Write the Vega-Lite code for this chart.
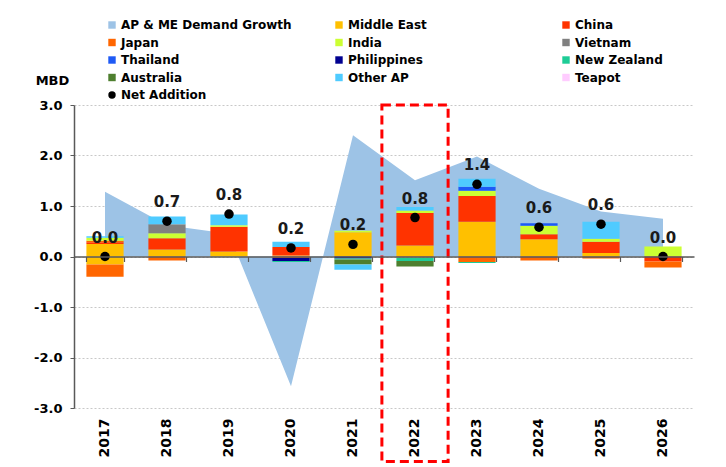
{
  "$schema": "https://vega.github.io/schema/vega-lite/v6.json",
  "width": 620,
  "height": 303,
  "autosize": {"type": "none"},
  "padding": {"left": 74, "top": 105, "right": 32, "bottom": 59},
  "background": "#ffffff",
  "config": {
    "font": "DejaVu Sans",
    "view": {"stroke": null},
    "axis": {"labelFont": "DejaVu Sans", "labelFontWeight": "bold", "labelColor": "#000000", "titleFont": "DejaVu Sans"},
    "legend": {"labelFont": "DejaVu Sans"}
  },
  "datasets": {
    "bars": [
      {"year": "2017", "series": "Middle East", "value": 0.25},
      {"year": "2017", "series": "China", "value": 0.03},
      {"year": "2017", "series": "Japan", "value": 0.03},
      {"year": "2017", "series": "India", "value": 0.06},
      {"year": "2017", "series": "Other AP", "value": 0.03},
      {"year": "2017", "series": "Middle East", "value": -0.16},
      {"year": "2017", "series": "Japan", "value": -0.24},
      {"year": "2018", "series": "Middle East", "value": 0.14},
      {"year": "2018", "series": "China", "value": 0.22},
      {"year": "2018", "series": "India", "value": 0.10},
      {"year": "2018", "series": "Vietnam", "value": 0.18},
      {"year": "2018", "series": "Other AP", "value": 0.15},
      {"year": "2018", "series": "Japan", "value": -0.08},
      {"year": "2019", "series": "Middle East", "value": 0.10},
      {"year": "2019", "series": "China", "value": 0.49},
      {"year": "2019", "series": "India", "value": 0.03},
      {"year": "2019", "series": "Other AP", "value": 0.21},
      {"year": "2020", "series": "Middle East", "value": 0.02},
      {"year": "2020", "series": "China", "value": 0.17},
      {"year": "2020", "series": "Other AP", "value": 0.10},
      {"year": "2020", "series": "Japan", "value": -0.03},
      {"year": "2020", "series": "Philippines", "value": -0.06},
      {"year": "2020", "series": "New Zealand", "value": -0.02},
      {"year": "2021", "series": "Middle East", "value": 0.48},
      {"year": "2021", "series": "India", "value": 0.03},
      {"year": "2021", "series": "Philippines", "value": -0.04},
      {"year": "2021", "series": "New Zealand", "value": -0.02},
      {"year": "2021", "series": "Australia", "value": -0.10},
      {"year": "2021", "series": "Other AP", "value": -0.10},
      {"year": "2022", "series": "Middle East", "value": 0.22},
      {"year": "2022", "series": "China", "value": 0.64},
      {"year": "2022", "series": "India", "value": 0.05},
      {"year": "2022", "series": "Other AP", "value": 0.07},
      {"year": "2022", "series": "Japan", "value": -0.02},
      {"year": "2022", "series": "New Zealand", "value": -0.07},
      {"year": "2022", "series": "Australia", "value": -0.11},
      {"year": "2023", "series": "Middle East", "value": 0.69},
      {"year": "2023", "series": "China", "value": 0.51},
      {"year": "2023", "series": "India", "value": 0.10},
      {"year": "2023", "series": "Thailand", "value": 0.08},
      {"year": "2023", "series": "Other AP", "value": 0.16},
      {"year": "2023", "series": "Japan", "value": -0.11},
      {"year": "2023", "series": "New Zealand", "value": -0.02},
      {"year": "2024", "series": "Middle East", "value": 0.34},
      {"year": "2024", "series": "China", "value": 0.10},
      {"year": "2024", "series": "India", "value": 0.17},
      {"year": "2024", "series": "Thailand", "value": 0.05},
      {"year": "2024", "series": "Japan", "value": -0.08},
      {"year": "2025", "series": "Middle East", "value": 0.07},
      {"year": "2025", "series": "China", "value": 0.22},
      {"year": "2025", "series": "India", "value": 0.06},
      {"year": "2025", "series": "Other AP", "value": 0.34},
      {"year": "2025", "series": "Japan", "value": -0.04},
      {"year": "2026", "series": "India", "value": 0.20},
      {"year": "2026", "series": "China", "value": -0.10},
      {"year": "2026", "series": "Japan", "value": -0.12}
    ],
    "demand": [
      {"year": "2017", "value": 1.28},
      {"year": "2018", "value": 0.62},
      {"year": "2019", "value": 0.45},
      {"year": "2020", "value": -2.57},
      {"year": "2021", "value": 2.40},
      {"year": "2022", "value": 1.51},
      {"year": "2023", "value": 1.98},
      {"year": "2024", "value": 1.34},
      {"year": "2025", "value": 0.89},
      {"year": "2026", "value": 0.75}
    ],
    "net": [
      {"year": "2017", "value": 0.0},
      {"year": "2018", "value": 0.70},
      {"year": "2019", "value": 0.84},
      {"year": "2020", "value": 0.17},
      {"year": "2021", "value": 0.24},
      {"year": "2022", "value": 0.77},
      {"year": "2023", "value": 1.43},
      {"year": "2024", "value": 0.58},
      {"year": "2025", "value": 0.64},
      {"year": "2026", "value": 0.0}
    ]
  },
  "layer": [
    {
      "data": {"name": "demand"},
      "mark": {"type": "area"},
      "encoding": {
        "x": {"field": "year", "type": "ordinal", "scale": {"paddingInner": 0.4, "paddingOuter": 0.2}, "axis": null},
        "y": {
          "field": "value", "type": "quantitative",
          "scale": {"domain": [-3, 3], "nice": false, "zero": false},
          "axis": {
            "title": "MBD", "titleAngle": 0, "titleX": -22, "titleY": -25, "titleAlign": "center", "titleBaseline": "middle",
            "titleFontSize": 13, "titleFontWeight": "bold", "titleColor": "#000000",
            "values": [-3, -2, -1, 0, 1, 2, 3],
            "labelExpr": "datum.value < 0 ? '-' + format(-datum.value, '.1f') : format(datum.value, '.1f')",
            "labelFontSize": 13, "labelPadding": 8,
            "tickSize": 4, "tickColor": "#595959", "domainColor": "#595959", "domainWidth": 1.5,
            "grid": true, "gridColor": "#C8C8C8", "gridDash": [2, 2]
          }
        },
        "color": {"datum": "AP & ME Demand Growth", "type": "nominal"}
      }
    },
    {
      "data": {"name": "bars"},
      "transform": [
        {"calculate": "indexof(['Middle East','China','Japan','India','Vietnam','Thailand','Philippines','New Zealand','Australia','Other AP','Teapot'], datum.series)", "as": "k"}
      ],
      "mark": {"type": "bar"},
      "encoding": {
        "x": {
          "field": "year", "type": "ordinal",
          "axis": {
            "orient": "bottom", "offset": -151.5, "labels": false, "title": null, "grid": false,
            "domain": true, "domainColor": "#595959", "domainWidth": 1.5,
            "ticks": true, "tickBand": "extent", "tickColor": "#595959", "tickSize": 5, "tickWidth": 1.2,
            "zindex": 1
          }
        },
        "y": {"field": "value", "type": "quantitative", "stack": "zero", "axis": null},
        "color": {
          "field": "series", "type": "nominal",
          "scale": {
            "domain": ["AP & ME Demand Growth", "Middle East", "China", "Japan", "India", "Vietnam", "Thailand", "Philippines", "New Zealand", "Australia", "Other AP", "Teapot", "Net Addition"],
            "range": ["#9DC3E6", "#FFC000", "#FF3300", "#FF6600", "#CCFF33", "#808080", "#1E5AF5", "#000090", "#1ECC96", "#4E7F2F", "#4FCBFF", "#FFCCFF", "#000000"]
          },
          "legend": {
            "orient": "none", "legendX": 32, "legendY": -86, "columns": 3, "direction": "horizontal", "title": null,
            "values": ["AP & ME Demand Growth", "Middle East", "China", "Japan", "India", "Vietnam", "Thailand", "Philippines", "New Zealand", "Australia", "Other AP", "Teapot", "Net Addition"],
            "labelFontSize": 12, "labelFontWeight": "bold", "labelColor": "#000000", "labelLimit": 300, "labelOffset": 3,
            "symbolType": "square", "symbolSize": 55, "symbolStrokeWidth": 0,
            "rowPadding": 5.5, "columnPadding": 41, "gridAlign": "all",
            "encode": {"symbols": {"update": {"shape": {"signal": "datum.value === 'Net Addition' ? 'circle' : 'square'"}}}}
          }
        },
        "order": {"field": "k", "type": "quantitative", "sort": "ascending"}
      }
    },
    {
      "data": {"name": "demand"},
      "transform": [{"filter": "datum.year === '2022'"}],
      "mark": {"type": "rect", "filled": false, "stroke": "#FF0000", "strokeWidth": 3, "strokeDash": [9, 5], "width": {"band": 1.78}},
      "encoding": {
        "x": {"field": "year", "type": "ordinal", "axis": null},
        "y": {"datum": 3, "type": "quantitative", "axis": null},
        "y2": {"datum": -4.06}
      }
    },
    {
      "data": {"name": "net"},
      "mark": {"type": "point", "filled": true, "size": 90, "opacity": 1},
      "encoding": {
        "x": {"field": "year", "type": "ordinal", "axis": null},
        "y": {"field": "value", "type": "quantitative", "axis": null},
        "color": {"datum": "Net Addition", "type": "nominal"}
      }
    },
    {
      "data": {"name": "net"},
      "mark": {"type": "text", "dy": -19, "fontSize": 15, "fontWeight": "bold", "color": "#1a1a1a"},
      "encoding": {
        "x": {
          "field": "year", "type": "ordinal",
          "axis": {"orient": "bottom", "title": null, "domain": false, "ticks": false, "grid": false, "labelAngle": -90, "labelPadding": 10, "labelFontSize": 14}
        },
        "y": {"field": "value", "type": "quantitative", "axis": null},
        "text": {"field": "value", "type": "quantitative", "format": ".1f"}
      }
    }
  ],
  "resolve": {"axis": {"x": "independent", "y": "independent"}}
}
